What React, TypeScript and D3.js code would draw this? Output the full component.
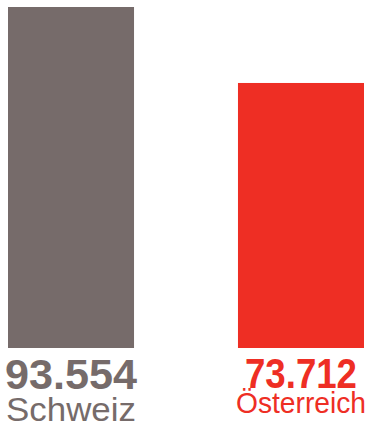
import React from "react";
import * as d3 from "d3";

const categories = ["Schweiz", "Österreich"];
const values = [93.554, 73.712];
const valueLabels = ["93.554", "73.712"];
const colors = ["#766b6a", "#ee2e24"];

const W = 369;
const H = 423;

export default function App() {
  const x = d3.scaleBand<string>().domain(categories).range([8, 364]).paddingInner(0.452).paddingOuter(0);
  const y = d3.scaleLinear().domain([4.5, 93.554]).range([348, 7]);
  const bw = x.bandwidth();
  const numStyle = [
    { size: 43, base: 389, len: 132 },
    { size: 43, base: 388, len: 112 },
  ];
  const labStyle = [
    { size: 33, base: 421, len: 130 },
    { size: 29, base: 413, len: 130 },
  ];
  return (
    <svg width={W} height={H} style={{ position: "absolute", left: 0, top: 0 }} fontFamily="'Liberation Sans', Arial, sans-serif">
      {categories.map((c, i) => {
        const x0 = x(c) as number;
        const cx = x0 + bw / 2;
        return (
          <g key={c}>
            <rect x={x0} y={y(values[i])} width={bw} height={y.range()[0] - y(values[i])} fill={colors[i]} />
            <text x={cx} y={numStyle[i].base} textAnchor="middle" fontWeight="bold" fontSize={numStyle[i].size} fill={colors[i]} textLength={numStyle[i].len} lengthAdjust="spacingAndGlyphs">
              {valueLabels[i]}
            </text>
            <text x={cx} y={labStyle[i].base} textAnchor="middle" fontSize={labStyle[i].size} fill={colors[i]} textLength={labStyle[i].len} lengthAdjust="spacingAndGlyphs">
              {c}
            </text>
          </g>
        );
      })}
    </svg>
  );
}
